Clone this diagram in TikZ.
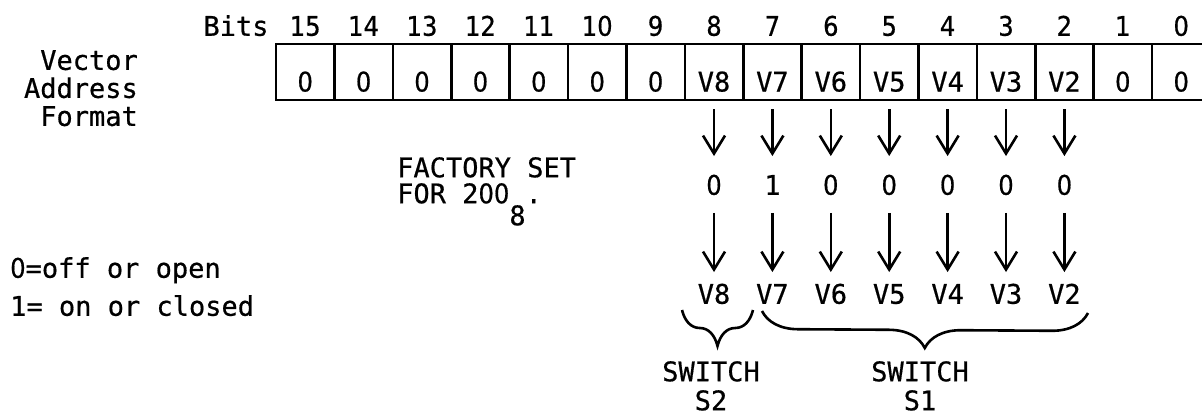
\documentclass[tikz,border=0pt]{standalone}
\usepackage{fontspec}
\setmonofont{DejaVu Sans Mono}[FakeBold=0.6]
\newfontfamily\zfont{DejaVu Sans Condensed}[FakeBold=0.6]
\newcommand{\zr}{{\zfont 0}}
\usetikzlibrary{arrows.meta, decorations.pathreplacing}

\begin{document}
\begin{tikzpicture}[
    x=1pt, y=-1pt,
    txt/.style={font=\ttfamily\fontsize{27}{31}\selectfont, inner sep=0pt},
    num/.style={txt, text height=19.5pt, text depth=0pt},
    bitnum/.style={num, font=\zfont\fontsize{27}{31}\selectfont},
    cell/.style={txt, draw, line width=2.6pt, minimum width=58.4pt, minimum height=56pt, text height=39pt, text depth=0pt},
    arr/.style={-{Straight Barb[length=18pt, width=22pt]}, line width=2.6pt},
    brc/.style={decorate, decoration={brace, amplitude=36pt, mirror}, line width=2.6pt}
]
\useasboundingbox (0,0) rectangle (1202,418);
\clip (0,0) rectangle (1202,418);

% register and bit numbers
\node[num] (bits) at (236,26) {Bits};
\node[txt, anchor=north east, align=right, font=\ttfamily\fontsize{27}{28}\selectfont] (fmt) at (138,50) {Vector\\Address\\Format};
\foreach \b/\t in {15/\zr,14/\zr,13/\zr,12/\zr,11/\zr,10/\zr,9/\zr,8/V8,7/V7,6/V6,5/V5,4/V4,3/V3,2/V2,1/\zr,0/\zr} {
    \node[cell] (c\b) at ({305.2+(15-\b)*58.4},72) {\t};
    \node[bitnum] (b\b) at ({305.2+(15-\b)*58.4},26) {\b};
}

% factory setting
\node[txt, anchor=north west, align=left, font=\ttfamily\fontsize{27}{26}\selectfont] (fact) at (397,157) {FACTORY SET\\FOR 2\zr\zr\raisebox{-22pt}{8}.};
\foreach \b/\v in {8/\zr,7/1,6/\zr,5/\zr,4/\zr,3/\zr,2/\zr} {
    \node[num] (d\b) at ({305.2+(15-\b)*58.4},185) {\v};
    \node[num] (v\b) at ({305.2+(15-\b)*58.4},294) {V\b};
    \draw[arr, shorten <=8pt, shorten >=19pt] (c\b) -- (d\b);
    \draw[arr, shorten <=18pt, shorten >=12pt] (d\b) -- (v\b);
}

\node[num, anchor=west] (off) at (10,268) {\zr=off or open};
\node[num, anchor=west] (on) at (10,306) {1= on or closed};

% switches
\coordinate (s2a) at (682,310);
\coordinate (s2b) at (753,310);
\coordinate (s1a) at (762,311);
\coordinate (s1b) at (1088,313);
\draw[brc] (s2a) -- (s2b);
\draw[brc] (s1a) -- (s1b);
\node[txt, anchor=north, align=center, font=\ttfamily\fontsize{27}{29}\selectfont] (sw2) at (711,361) {SWITCH\\S2};
\node[txt, anchor=north, align=center, font=\ttfamily\fontsize{27}{29}\selectfont] (sw1) at (920,361) {SWITCH\\S1};
\end{tikzpicture}
\end{document}
